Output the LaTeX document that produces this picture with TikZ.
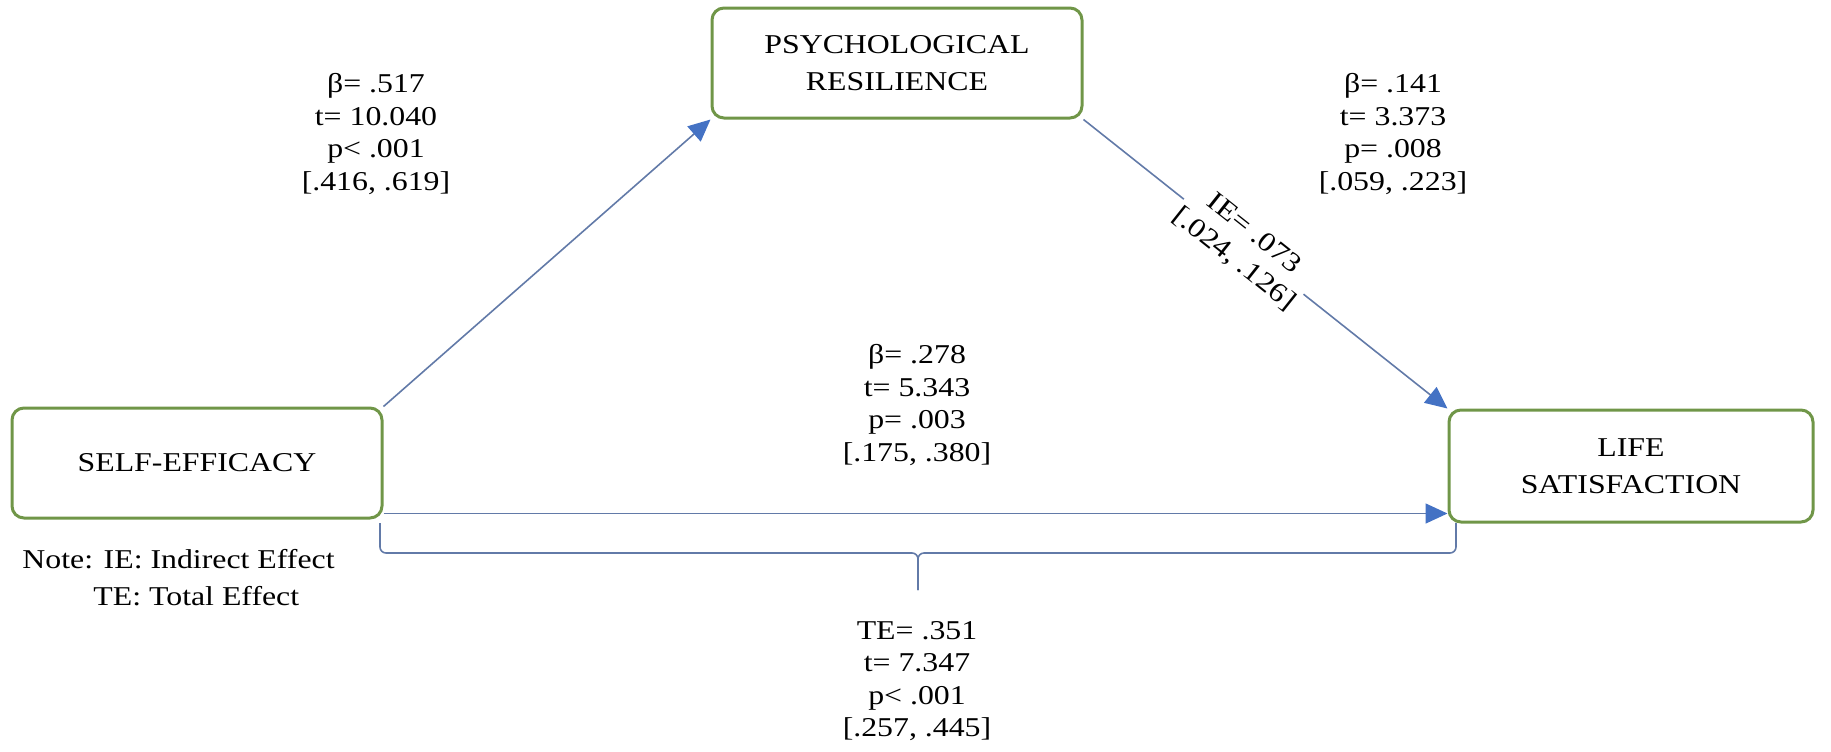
\documentclass[tikz,border=0pt]{standalone}
\usepackage{fontspec}
\setmainfont[FakeStretch=1.17]{Liberation Serif}
\usetikzlibrary{arrows.meta}

\definecolor{boxgreen}{RGB}{112,150,72}
\definecolor{linkblue}{RGB}{98,122,168}
\definecolor{tipblue}{RGB}{68,114,196}

\tikzset{
  var/.style={draw=boxgreen, line width=1.5pt, rounded corners=6pt, minimum width=185pt, minimum height=55pt, align=center, font=\fontsize{13.6}{18.5}\selectfont},
  stat/.style={align=center, font=\fontsize{13.6}{16.2}\selectfont},
  link/.style={draw=linkblue, line width=0.8pt, -{Triangle[length=11pt,width=10pt,color=tipblue]}},
  bracket/.style={draw=linkblue, line width=0.8pt, rounded corners=3pt}
}

\begin{document}
\begin{tikzpicture}[x=0.5pt,y=-0.5pt]
  \useasboundingbox (0,0) rectangle (1831,751);

  \node[var] (se) at (197,463) {SELF-EFFICACY};
  \node[var] (pr) at (897,63) {PSYCHOLOGICAL\\RESILIENCE};
  \node[var, minimum width=182pt, minimum height=56pt] (ls) at (1631,466) {LIFE\\SATISFACTION};

  \draw[link] (se.north east) -- (pr.south west);
  \draw[link] (pr.south east) -- (ls.north west)
    node[stat, sloped, pos=0.44, fill=white, inner sep=1pt] (ie) {IE= .073\\{}[.024, .126]};
  \coordinate (hs) at ([yshift=3pt]se.south east);
  \draw[link] (hs) -- (hs -| ls.west);

  \coordinate (bl) at (380,523);
  \coordinate (br) at (1456,523);
  \coordinate (bm) at (918,553);
  \coordinate (bt) at (918,590);
  \draw[bracket] (bl) |- (bm) -- (bt);
  \draw[bracket] (br) |- (bm) -- (bt);

  \node[stat] (sepr) at (376,134) {β= .517\\t= 10.040\\p< .001\\{}[.416, .619]};
  \node[stat] (prls) at (1393,134) {β= .141\\t= 3.373\\p= .008\\{}[.059, .223]};
  \node[stat] (sels) at (917,405) {β= .278\\t= 5.343\\p= .003\\{}[.175, .380]};
  \node[stat] (te) at (917,681) {TE= .351\\t= 7.347\\p< .001\\{}[.257, .445]};

  \node[stat, anchor=base west, inner sep=0pt] (note) at (22,568) {Note: IE: Indirect Effect};
  \node[stat, anchor=base west, inner sep=0pt] (notete) at (93,605) {TE: Total Effect};
\end{tikzpicture}
\end{document}
